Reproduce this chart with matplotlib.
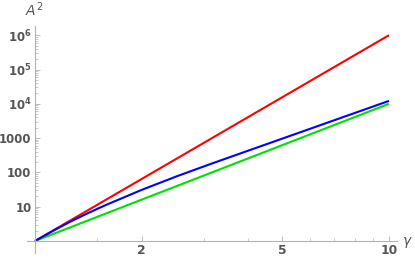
import numpy as np
import matplotlib
matplotlib.use("Agg")
import matplotlib.pyplot as plt
from matplotlib.ticker import FixedLocator, NullFormatter

# values
x_red = [1, 2, 5, 10]
y_red = [1, 64, 15625, 1e6]

x_green = [1, 2, 5, 10]
y_green = [1, 16, 625, 1e4]

x_blue = [1, 1.122, 1.259, 1.413, 1.585, 1.995, 2.512, 3.162, 3.981, 5.012, 6.310, 7.943, 10]
y_blue = [1, 1.95, 3.67, 6.53, 11.2, 30.5, 76.7, 182, 422, 977, 2265, 5250, 12160]

x_major = [2, 5, 10]
x_major_labels = ["2", "5", "10"]
x_minor = [1.5, 3, 4, 6, 7, 8, 9]
y_major = [10, 100, 1000, 1e4, 1e5, 1e6]
y_major_labels = ["10", "100", "1000", r"$\mathbf{10^4}$", r"$\mathbf{10^5}$", r"$\mathbf{10^6}$"]

axcol = "#b3b3b3"
txtcol = "#555555"

fig = plt.figure(figsize=(4.15, 2.63), dpi=100)
# axes box spans from x-axis overhang (px 27) to px 397, y from px 253 to px 26
ax = fig.add_axes([27 / 415, (263 - 253) / 263, (397 - 27) / 415, (253 - 26) / 263])

ax.set_xscale("log")
ax.set_yscale("log")
ax.set_xlim(10 ** (-8 / 354), 10 ** (362 / 354))
ax.set_ylim(10 ** (-12 / 34.3), 10 ** (215 / 34.3))

ax.plot(x_red, y_red, color="#ff0000", lw=1.5, solid_capstyle="butt")
ax.plot(x_green, y_green, color="#00e000", lw=1.5, solid_capstyle="butt")
ax.plot(x_blue, y_blue, color="#0000ff", lw=1.5, solid_capstyle="butt")

for s in ["top", "right"]:
    ax.spines[s].set_visible(False)
ax.spines["left"].set_position(("data", 1))
ax.spines["bottom"].set_position(("data", 1))
for s in ["left", "bottom"]:
    ax.spines[s].set_color(axcol)
    ax.spines[s].set_linewidth(0.8)

ax.xaxis.set_major_locator(FixedLocator(x_major))
ax.set_xticklabels(x_major_labels)
ax.xaxis.set_minor_locator(FixedLocator(x_minor))
ax.xaxis.set_minor_formatter(NullFormatter())
ax.yaxis.set_major_locator(FixedLocator(y_major))
ax.set_yticklabels(y_major_labels)
ymin = [m * 10 ** k for k in range(0, 7) for m in range(2, 10) if m * 10 ** k < 1.9e6]
ax.yaxis.set_minor_locator(FixedLocator(ymin))
ax.yaxis.set_minor_formatter(NullFormatter())

ax.tick_params(which="major", direction="in", length=3.5, width=0.6, color=axcol,
               labelcolor=txtcol, pad=2.5)
ax.tick_params(axis="x", which="major", labelsize=8.8)
ax.tick_params(axis="y", which="major", labelsize=8.5)
ax.tick_params(which="minor", direction="in", length=2, width=0.5, color=axcol)
for lab in ax.get_xticklabels() + ax.get_yticklabels():
    lab.set_fontweight("bold")

fig.text(34 / 415, 1 - 10 / 263, r"$A^2$", ha="center", va="center",
         fontsize=10, color=txtcol)
fig.text(407 / 415, 1 - 242 / 263, r"$\gamma$", ha="center", va="center",
         fontsize=10, color=txtcol)

fig.savefig("out.png", dpi=100)
